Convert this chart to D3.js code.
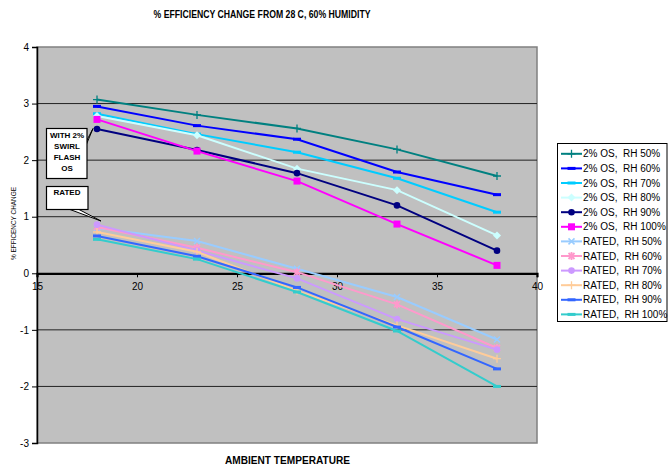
<!DOCTYPE html>
<html>
<head>
<meta charset="utf-8">
<script src="https://cdn.jsdelivr.net/npm/d3@7/dist/d3.min.js"></script>
<style>
  html, body { margin: 0; padding: 0; background: #ffffff; }
  svg { display: block; font-family: "Liberation Sans", Arial, sans-serif; }
</style>
</head>
<body>
<svg id="chart" width="668" height="467"></svg>
<script>
// ---------------- data ----------------
const temps = [18, 23, 28, 33, 38];
const seriesNames = [
  "2% OS,  RH 50%", "2% OS,  RH 60%", "2% OS,  RH 70%", "2% OS,  RH 80%",
  "2% OS,  RH 90%", "2% OS,  RH 100%",
  "RATED,  RH 50%", "RATED,  RH 60%", "RATED,  RH 70%", "RATED,  RH 80%",
  "RATED,  RH 90%", "RATED,  RH 100%"
];
const os50  = [3.07, 2.80, 2.56, 2.19, 1.72];
const os60  = [2.95, 2.61, 2.37, 1.79, 1.39];
const os70  = [2.82, 2.46, 2.14, 1.68, 1.08];
const os80  = [2.78, 2.44, 1.85, 1.47, 0.67];
const os90  = [2.55, 2.18, 1.77, 1.20, 0.40];
const os100 = [2.72, 2.16, 1.63, 0.87, 0.14];
const r50   = [0.80, 0.57, 0.08, -0.42, -1.17];
const r60   = [0.82, 0.45, 0.02, -0.55, -1.32];
const r70   = [0.86, 0.40, -0.09, -0.81, -1.35];
const r80   = [0.73, 0.38, -0.31, -0.92, -1.51];
const r90   = [0.66, 0.30, -0.25, -0.95, -1.69];
const r100  = [0.60, 0.25, -0.33, -1.02, -2.00];
const seriesValues = [os50, os60, os70, os80, os90, os100, r50, r60, r70, r80, r90, r100];
const seriesColors = ["#008080", "#0000FF", "#00CCFF", "#CCFFFF", "#000080", "#FF00FF",
                      "#99CCFF", "#FF99CC", "#CC99FF", "#FFCC99", "#3366FF", "#33CCCC"];
const seriesMarkers = ["plus", "dash", "dash", "diamond", "circle", "square",
                       "x", "star", "circle", "plus", "dash", "dash"];
const xTicks = [15, 20, 25, 30, 35, 40];
const yTicks = [-3, -2, -1, 0, 1, 2, 3, 4];

const titleText = "% EFFICIENCY CHANGE FROM 28 C, 60% HUMIDITY";
const xTitle = "AMBIENT TEMPERATURE";
const yTitle = "% EFFICENCY CHANGE";
const note1 = ["WITH 2%", "SWIRL", "FLASH", "OS"];
const note2 = ["RATED"];

// ---------------- layout ----------------
const svg = d3.select("#chart");
const L = 37, R = 537, T = 47, B = 443;
const x = d3.scaleLinear().domain([15, 40]).range([L, R]);
const y = d3.scaleLinear().domain([-3, 4]).range([B, T]);

// plot background
svg.append("rect").attr("x", L).attr("y", T).attr("width", R - L).attr("height", B - T)
  .attr("fill", "#C0C0C0").attr("stroke", "#808080").attr("stroke-width", 1.5);

// gridlines
svg.append("g").selectAll("line").data(yTicks.filter(v => v !== 0 && v !== 4 && v !== -3)).join("line")
  .attr("x1", L).attr("x2", R).attr("y1", d => y(d)).attr("y2", d => y(d))
  .attr("stroke", "#222").attr("stroke-width", 1);

// y axis
const yAxis = svg.append("g").attr("transform", `translate(${L},0)`)
  .call(d3.axisLeft(y).tickValues(yTicks).tickSize(5).tickPadding(3).tickFormat(d => String(d)));
yAxis.select(".domain").attr("stroke", "#000").attr("stroke-width", 1.5);
yAxis.selectAll("text").attr("font-size", 10).attr("font-family", "Liberation Sans, Arial, sans-serif").attr("fill", "#000");

// x axis at zero
const xAxis = svg.append("g").attr("transform", `translate(0,${y(0)})`)
  .call(d3.axisBottom(x).tickValues(xTicks).tickSize(4).tickPadding(6).tickFormat(d => String(d)));
xAxis.select(".domain").attr("stroke", "#000").attr("stroke-width", 2.2);
xAxis.selectAll("text").attr("font-size", 10).attr("font-family", "Liberation Sans, Arial, sans-serif").attr("fill", "#000");

// ---------------- series ----------------
const line = d3.line().x((d, i) => x(temps[i])).y(d => y(d));

function drawMarker(g, type, cx, cy, color) {
  const s = 3;
  if (type === "plus") {
    g.append("path").attr("d", `M${cx - s - 1},${cy}H${cx + s + 1}M${cx},${cy - s - 1}V${cy + s + 1}`)
      .attr("stroke", color).attr("stroke-width", 1.3).attr("fill", "none");
  } else if (type === "x") {
    g.append("path").attr("d", `M${cx - s},${cy - s}L${cx + s},${cy + s}M${cx - s},${cy + s}L${cx + s},${cy - s}`)
      .attr("stroke", color).attr("stroke-width", 1.5).attr("fill", "none");
  } else if (type === "star") {
    g.append("path").attr("d", `M${cx - s},${cy - s}L${cx + s},${cy + s}M${cx - s},${cy + s}L${cx + s},${cy - s}M${cx},${cy - s - 1}V${cy + s + 1}`)
      .attr("stroke", color).attr("stroke-width", 1.8).attr("fill", "none");
  } else if (type === "dash") {
    g.append("rect").attr("x", cx - 4).attr("y", cy - 1.5).attr("width", 8).attr("height", 3).attr("fill", color);
  } else if (type === "square") {
    g.append("rect").attr("x", cx - 3.5).attr("y", cy - 3.5).attr("width", 7).attr("height", 7).attr("fill", color);
  } else if (type === "circle") {
    g.append("circle").attr("cx", cx).attr("cy", cy).attr("r", 3.3).attr("fill", color);
  } else if (type === "diamond") {
    g.append("path").attr("d", `M${cx},${cy - 4}L${cx + 4},${cy}L${cx},${cy + 4}L${cx - 4},${cy}Z`).attr("fill", color);
  }
}

const sg = svg.append("g");
seriesValues.forEach((vals, k) => {
  const g = sg.append("g");
  g.append("path").attr("d", line(vals)).attr("fill", "none")
    .attr("stroke", seriesColors[k]).attr("stroke-width", 2);
  vals.forEach((v, i) => drawMarker(g, seriesMarkers[k], x(temps[i]), y(v), seriesColors[k]));
});

// ---------------- callouts ----------------
const ann = svg.append("g").attr("font-family", "Liberation Sans, Arial, sans-serif").attr("font-weight", "bold");
ann.append("path").attr("d", "M84.5,149L87.5,139L93,128.5Z").attr("fill", "#fff").attr("stroke", "#000").attr("stroke-width", 1);
ann.append("path").attr("d", "M70,209.5L101,221L79,209.5Z").attr("fill", "#fff").attr("stroke", "#000").attr("stroke-width", 1);
ann.append("rect").attr("x", 46.5).attr("y", 128.5).attr("width", 40.5).attr("height", 50)
  .attr("fill", "#fff").attr("stroke", "#000").attr("stroke-width", 1.2);
ann.append("rect").attr("x", 46.5).attr("y", 186.5).attr("width", 41.5).attr("height", 23)
  .attr("fill", "#fff").attr("stroke", "#000").attr("stroke-width", 1.2);
note1.forEach((t, i) => {
  ann.append("text").attr("x", 67).attr("y", 137.5 + i * 11.1).attr("text-anchor", "middle")
    .attr("font-size", 8).text(t);
});
note2.forEach((t, i) => {
  ann.append("text").attr("x", 67).attr("y", 195 + i * 11).attr("text-anchor", "middle")
    .attr("font-size", 8).text(t);
});

// ---------------- titles ----------------
svg.append("text").attr("x", 262).attr("y", 18).attr("text-anchor", "middle")
  .attr("font-size", 11).attr("font-weight", "bold").attr("textLength", 217).attr("lengthAdjust", "spacingAndGlyphs")
  .text(titleText);
svg.append("text").attr("x", 287.5).attr("y", 464).attr("text-anchor", "middle")
  .attr("font-size", 10.5).attr("font-weight", "bold").attr("textLength", 125).attr("lengthAdjust", "spacingAndGlyphs")
  .text(xTitle);
svg.append("text").attr("transform", "translate(15.5,223.5) rotate(-90)").attr("text-anchor", "middle")
  .attr("font-size", 8).attr("textLength", 73).attr("lengthAdjust", "spacingAndGlyphs")
  .text(yTitle);

// ---------------- legend ----------------
const lg = svg.append("g");
lg.append("rect").attr("x", 557.5).attr("y", 143.5).attr("width", 109.5).attr("height", 178)
  .attr("fill", "#fff").attr("stroke", "#000").attr("stroke-width", 1);
seriesNames.forEach((name, k) => {
  const cy = 153.8 + k * 14.6;
  lg.append("line").attr("x1", 561).attr("x2", 582).attr("y1", cy).attr("y2", cy)
    .attr("stroke", seriesColors[k]).attr("stroke-width", 2);
  drawMarker(lg, seriesMarkers[k], 571.5, cy, seriesColors[k]);
  lg.append("text").attr("x", 583).attr("y", cy + 3.6).attr("font-size", 10)
    .attr("xml:space", "preserve").style("white-space", "pre").text(name);
});
</script>
</body>
</html>
